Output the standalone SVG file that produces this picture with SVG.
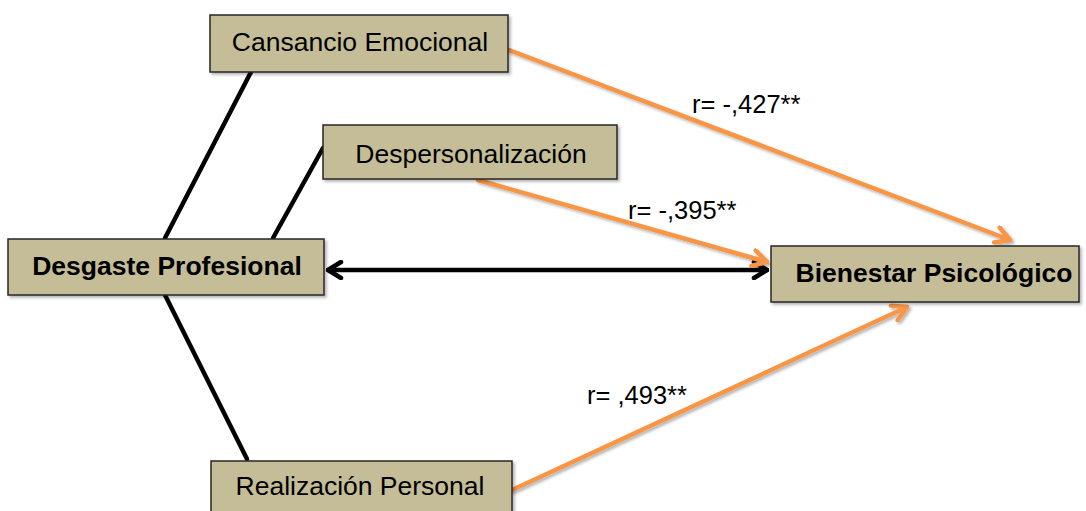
<svg xmlns="http://www.w3.org/2000/svg" width="1086" height="511" viewBox="0 0 1086 511">
<style>
.box{fill:#c4bd97;stroke:#262626;stroke-width:1.5;filter:url(#sh)}
.t{font-family:"Liberation Sans",Arial,sans-serif;font-size:26.5px;fill:#000;text-anchor:middle}
.b{font-weight:bold}
.lbl{font-family:"Liberation Sans",Arial,sans-serif;font-size:25.5px;fill:#000}
.blk{stroke:#000;stroke-width:4.5;fill:none;stroke-linecap:round}
.org{stroke:#f79646;stroke-width:4.5;fill:none;stroke-linecap:round;filter:url(#sh)}
</style>
<defs>
<filter id="sh" x="-20%" y="-20%" width="140%" height="140%">
<feDropShadow dx="2" dy="2" stdDeviation="1.5" flood-color="#000" flood-opacity="0.3"/>
</filter>
<marker id="ao" viewBox="0 0 20 20" refX="18" refY="10" markerWidth="20" markerHeight="20" markerUnits="userSpaceOnUse" orient="auto">
<path d="M4,2 L18,10 L4,18" fill="none" stroke="#f79646" stroke-width="4.5" stroke-linecap="round" stroke-linejoin="round"/>
</marker>
<marker id="ab" viewBox="0 0 20 20" refX="18" refY="10" markerWidth="20" markerHeight="20" markerUnits="userSpaceOnUse" orient="auto-start-reverse">
<path d="M5,2 L18,10 L5,18" fill="none" stroke="#000" stroke-width="4.5" stroke-linecap="round" stroke-linejoin="round"/>
</marker>
</defs>
<g id="connectors">
<line class="blk" x1="251" y1="72" x2="165" y2="238"/>
<line class="blk" x1="323" y1="148" x2="273" y2="238"/>
<line class="blk" x1="165" y1="295" x2="247" y2="459"/>
<line class="blk" x1="328" y1="270" x2="767" y2="270" marker-start="url(#ab)" marker-end="url(#ab)"/>
<line class="org" x1="509" y1="50" x2="1010" y2="240" marker-end="url(#ao)"/>
<line class="org" x1="478" y1="180" x2="767" y2="262" marker-end="url(#ao)"/>
<line class="org" x1="512" y1="490" x2="907" y2="307" marker-end="url(#ao)"/>
<text class="lbl" x="692" y="113">r= -,427**</text>
<text class="lbl" x="628" y="219">r= -,395**</text>
<text class="lbl" x="587" y="404">r= ,493**</text>
</g>
<g id="cansancio">
<rect class="box" x="210" y="15" width="298" height="57"/>
<text class="t" x="360" y="51">Cansancio Emocional</text>
</g>
<g id="despersonalizacion">
<rect class="box" x="323" y="125" width="294" height="54"/>
<text class="t" x="471" y="163">Despersonalización</text>
</g>
<g id="desgaste">
<rect class="box" x="8" y="239" width="316" height="56"/>
<text class="t b" x="167" y="275">Desgaste Profesional</text>
</g>
<g id="bienestar">
<rect class="box" x="771" y="246" width="308" height="56"/>
<text class="t b" x="934" y="282">Bienestar Psicológico</text>
</g>
<g id="realizacion">
<rect class="box" x="211" y="461" width="301" height="56"/>
<text class="t" x="360" y="495">Realización Personal</text>
</g>
</svg>
